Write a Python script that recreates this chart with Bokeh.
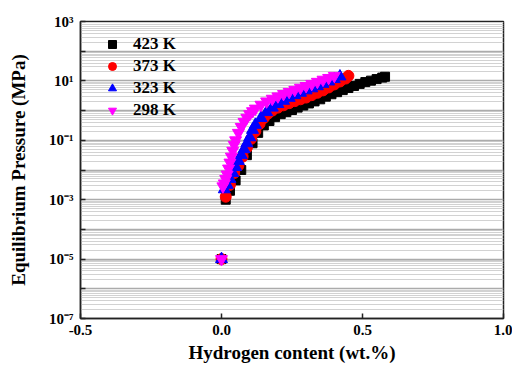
from bokeh.plotting import figure
from bokeh.models import FixedTicker, Legend, LegendItem
from bokeh.embed import file_html
from bokeh.resources import INLINE

# ---------------- data ----------------
series_names = ["423 K", "373 K", "323 K", "298 K"]

x_423 = [0.0, 0.015, 0.03, 0.05, 0.07, 0.09, 0.11, 0.13, 0.15, 0.17, 0.19, 0.21, 0.23,
         0.25, 0.27, 0.29, 0.31, 0.33, 0.35, 0.37, 0.39, 0.41, 0.43, 0.45, 0.47, 0.49,
         0.51, 0.53, 0.55, 0.57, 0.58]
p_423 = [1e-5, 0.001, 0.002, 0.00447, 0.01, 0.0316, 0.0794, 0.178, 0.316, 0.447, 0.603,
         0.759, 0.891, 1.05, 1.26, 1.48, 1.74, 2.04, 2.4, 2.95, 3.55, 4.17, 4.9, 5.75,
         6.76, 7.94, 9.12, 10.2, 11.5, 12.9, 13.8]

x_373 = [0.0, 0.015, 0.03, 0.045, 0.06, 0.075, 0.09, 0.105, 0.12, 0.135, 0.15, 0.165,
         0.18, 0.2, 0.22, 0.24, 0.26, 0.28, 0.3, 0.32, 0.34, 0.36, 0.38, 0.40, 0.42,
         0.44, 0.45]
p_373 = [1e-5, 0.00126, 0.00316, 0.00794, 0.0141, 0.0282, 0.0562, 0.112, 0.2, 0.355,
         0.562, 0.794, 1.0, 1.26, 1.51, 1.78, 2.09, 2.4, 2.75, 3.31, 3.98, 4.79, 6.03,
         7.59, 9.55, 12.0, 14.8]

x_323 = [0.0, 0.01, 0.02, 0.03, 0.04, 0.05, 0.06, 0.07, 0.08, 0.09, 0.10, 0.11, 0.12,
         0.14, 0.16, 0.18, 0.20, 0.22, 0.24, 0.26, 0.28, 0.30, 0.32, 0.34, 0.36, 0.38,
         0.40, 0.42]
p_323 = [1e-5, 0.00224, 0.00316, 0.00501, 0.00794, 0.0126, 0.02, 0.0316, 0.0501,
         0.0794, 0.126, 0.224, 0.331, 0.562, 0.891, 1.26, 1.66, 2.14, 2.69, 3.31, 3.98,
         4.79, 5.62, 6.61, 7.94, 9.55, 11.5, 14.1]

x_298 = [0.0, 0.005, 0.01, 0.015, 0.02, 0.025, 0.03, 0.035, 0.04, 0.045, 0.05, 0.06,
         0.07, 0.08, 0.09, 0.10, 0.11, 0.12, 0.14, 0.16, 0.18, 0.20, 0.22, 0.24, 0.26,
         0.28, 0.30, 0.32, 0.34, 0.36, 0.38, 0.40]
p_298 = [1e-5, 0.00282, 0.00355, 0.00501, 0.00708, 0.0112, 0.0178, 0.0282, 0.0447,
         0.0708, 0.1, 0.178, 0.282, 0.417, 0.575, 0.759, 0.955, 1.17, 1.58, 2.04, 2.51,
         3.02, 3.63, 4.27, 5.01, 5.89, 6.76, 7.94, 9.33, 11.0, 12.6, 14.8]

x_ticks = [-0.5, 0.0, 0.5, 1.0]
x_tick_labels = ["-0.5", "0.0", "0.5", "1.0"]
y_ticks = [1e-7, 1e-6, 1e-5, 1e-4, 1e-3, 1e-2, 1e-1, 1e0, 1e1, 1e2, 1e3]
y_tick_labels = ["10\u207b\u2077", "", "10\u207b\u2075", "", "10\u207b\u00b3", "",
                 "10\u207b\u00b9", "", "10\u00b9", "", "10\u00b3"]

x_label = "Hydrogen content (wt.%)"
y_label = "Equilibrium Pressure (MPa)"

# ---------------- figure ----------------
FONT = "Liberation Serif"

p = figure(width=512, height=372, y_axis_type="log",
           x_range=(-0.5, 1.0), y_range=(1e-7, 1e3),
           output_backend="svg", toolbar_location=None,
           min_border_left=80, min_border_right=9,
           min_border_top=21, min_border_bottom=54)

p.outline_line_color = "#222222"
p.outline_line_width = 1.5

# minor grid positions (2..9 x 10^n)
minor = []
for e in range(-7, 3):
    for k in range(2, 10):
        minor.append(k * 10.0 ** e)

p.yaxis.ticker = FixedTicker(ticks=y_ticks, minor_ticks=minor)
p.yaxis.major_label_overrides = {t: l for t, l in zip(y_ticks, y_tick_labels)}
p.xaxis.ticker = FixedTicker(ticks=x_ticks)
p.xaxis.major_label_overrides = {t: l for t, l in zip(x_ticks, x_tick_labels)}

p.xgrid.grid_line_color = None
p.ygrid.grid_line_color = "#ababab"
p.ygrid.grid_line_width = 1.5
p.ygrid.minor_grid_line_color = "#d2d2d2"
p.ygrid.minor_grid_line_width = 1

for ax in (p.xaxis, p.yaxis):
    ax.axis_line_color = "#222222"
    ax.axis_line_width = 1.5
    ax.major_tick_in = 5
    ax.major_tick_out = 0
    ax.major_tick_line_color = "#222222"
    ax.major_tick_line_width = 1.5
    ax.minor_tick_line_color = None
    ax.major_label_text_font = FONT
    ax.major_label_text_font_style = "bold"
    ax.major_label_text_font_size = "15px"
    ax.major_label_text_color = "black"
    ax.axis_label_text_font = FONT
    ax.axis_label_text_font_style = "bold"
    ax.axis_label_text_font_size = "19px"
    ax.axis_label_text_color = "black"

p.xaxis.axis_label = x_label
p.yaxis.axis_label = y_label
p.xaxis.major_label_standoff = 6
p.xaxis.axis_label_standoff = 4
p.yaxis.major_label_standoff = 3
p.yaxis.axis_label_standoff = 17

r423 = p.scatter(x_423, p_423, marker="square", size=9, color="black")
r373 = p.scatter(x_373, p_373, marker="circle", size=11, color="#ff0000")
r323 = p.scatter(x_323, p_323, marker="triangle", size=12, color="#0000ff")
r298 = p.scatter(x_298, p_298, marker="inverted_triangle", size=12, color="#ff00ff")

legend = Legend(items=[LegendItem(label=n, renderers=[r])
                       for n, r in zip(series_names, [r423, r373, r323, r298])],
                location="top_left")
legend.background_fill_alpha = 0
legend.border_line_color = None
legend.label_text_font = FONT
legend.label_text_font_style = "bold"
legend.label_text_font_size = "17px"
legend.label_text_color = "black"
legend.glyph_width = 38
legend.glyph_height = 20
legend.label_height = 20
legend.spacing = 2
legend.margin = 13
legend.padding = 0
legend.label_standoff = 2
p.add_layout(legend)

open("out.html", "w").write(file_html(p, INLINE))
